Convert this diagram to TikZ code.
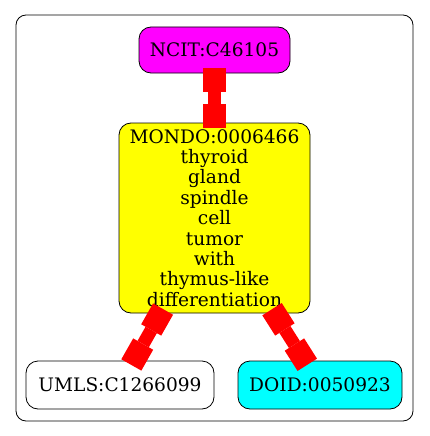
\documentclass[tikz,border=0pt]{standalone}
\usepackage{fontspec}
\setmainfont{DejaVu Serif}
\usepackage{tikz}
\usepackage{xcolor}
\usetikzlibrary{arrows.meta,positioning}
\definecolor{termpink}{RGB}{255, 0, 255}
\definecolor{termyellow}{RGB}{255, 255, 0}
\definecolor{termcyan}{RGB}{0, 255, 255}
\definecolor{linkred}{RGB}{255, 0, 0}
\tikzset{
  term/.style={draw=black, line width=0.8pt, rounded corners=12pt, inner sep=0pt,
    align=center, font=\fontsize{18.6}{20.4}\selectfont},
  link/.style={draw=linkred, line width=13pt,
    {Square[length=24pt,width=23pt,line width=0pt]}-{Square[length=24pt,width=23pt,line width=0pt]},
    shorten <=-5pt, shorten >=-5pt},
}

\begin{document}
\begin{tikzpicture}[x=1pt, y=-1pt]
  \useasboundingbox (0,0) rectangle (429,436);
  \draw[line width=0.8pt, rounded corners=10pt] (16,15) rectangle (413,421);
  \node[term, fill=termpink, minimum width=151pt, minimum height=46pt] (ncit) at (214.5,50) {NCIT:C46105};
  \node[term, fill=termyellow, minimum width=191pt, minimum height=190pt] (mondo) at (214.5,218)
    {MONDO:0006466\\thyroid\\gland\\spindle\\cell\\tumor\\with\\thymus-like\\differentiation};
  \node[term, fill=white, minimum width=188pt, minimum height=48pt] (umls) at (120,385) {UMLS:C1266099};
  \node[term, fill=termcyan, minimum width=164pt, minimum height=48pt] (doid) at (320,385) {DOID:0050923};
  % connectors
  \draw[link] (ncit) -- (mondo);
  \draw[link] (mondo) -- (umls);
  \draw[link] (mondo) -- (doid);
\end{tikzpicture}
\end{document}
